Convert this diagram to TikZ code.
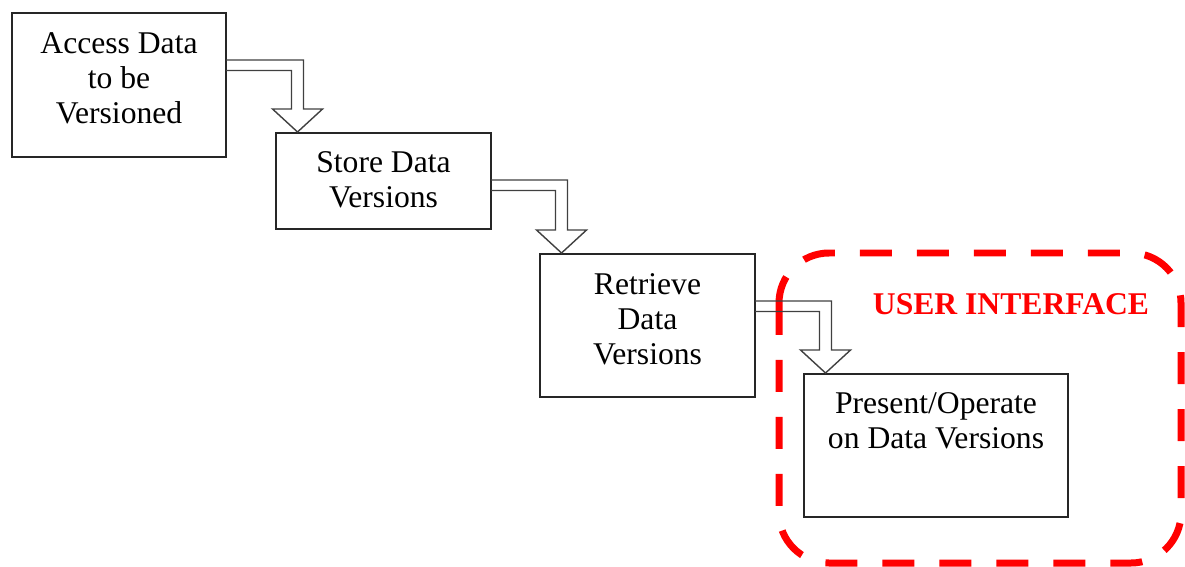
\documentclass[tikz,border=0pt]{standalone}
\usepackage{fontspec}
\setmainfont{Liberation Serif}
\usetikzlibrary{calc}

\tikzset{
  stepbox/.style={draw=black!85, line width=0.8pt, inner sep=0pt, outer sep=0pt},
  pipe/.style={draw=black!75, line width=0.8pt},
  uiframe/.style={draw=red, line width=0.14cm, dash pattern=on 0.64cm off 0.5cm, rounded corners=1cm},
  steptext/.style={align=center, font=\fontsize{18}{20}\selectfont}
}

\begin{document}
\begin{tikzpicture}[x=0.02cm,y=-0.02cm]

\useasboundingbox (0,0) rectangle (1185,567);

% User interface frame
\draw[uiframe] (779,253) rectangle (1181,563);

\node[text=red, font=\fontsize{18}{20}\selectfont\bfseries] (uilabel) at (1011,304)
{USER INTERFACE};

% Steps
\node[stepbox, minimum width=4.28cm, minimum height=2.88cm] (access) at (119,85) {};
\node[steptext] (accesstext) at (119,78.5)
{Access Data\\to be\\Versioned};

\node[stepbox, minimum width=4.3cm, minimum height=1.92cm] (store) at (383.5,181) {};
\node[steptext] (storetext) at (383.5,180)
{Store Data\\Versions};

\node[stepbox, minimum width=4.3cm, minimum height=2.86cm] (retrieve) at (647.5,325.5) {};
\node[steptext] (retrievetext) at (647.5,319)
{Retrieve\\Data\\Versions};

\node[stepbox, minimum width=5.28cm, minimum height=2.86cm] (present) at (936,445.5) {};
\node[steptext] (presenttext) at (936,421)
{Present/Operate\\on Data Versions};

% Hollow arrows
\draw[pipe] ($(access.north east)+(0,47)$) coordinate (a1)
  -| ($(store.north west)+(27.5,-24)$) -- ++(19,0)
  -- ($(store.north west)+(21.5,-1)$) -- ++(-25,-23) -- ++(19,0)
  |- ($(a1)+(0,10.5)$);

\draw[pipe] ($(store.north east)+(0,47)$) coordinate (a2)
  -| ($(retrieve.north west)+(27.5,-24)$) -- ++(19,0)
  -- ($(retrieve.north west)+(21.5,-1)$) -- ++(-25,-23) -- ++(19,0)
  |- ($(a2)+(0,10.5)$);

\draw[pipe] ($(retrieve.north east)+(0,47)$) coordinate (a3)
  -| ($(present.north west)+(27.5,-24)$) -- ++(19,0)
  -- ($(present.north west)+(21.5,-1)$) -- ++(-25,-23) -- ++(19,0)
  |- ($(a3)+(0,10.5)$);

\end{tikzpicture}
\end{document}
